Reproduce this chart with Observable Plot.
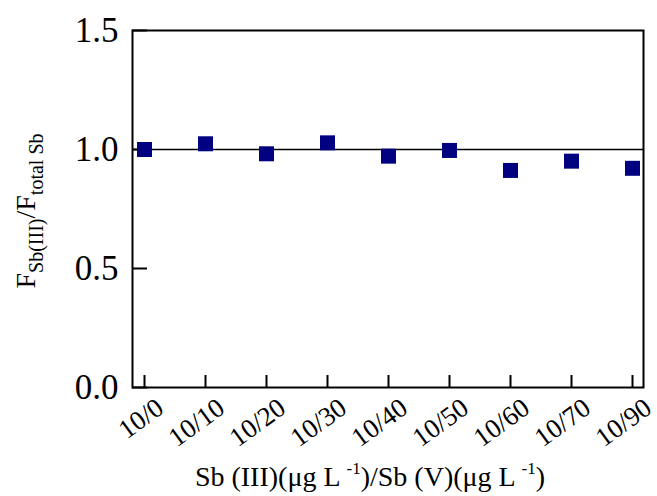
<!DOCTYPE html>
<html>
<head>
<meta charset="utf-8">
<script src="https://cdn.jsdelivr.net/npm/d3@7"></script>
<script src="https://cdn.jsdelivr.net/npm/@observablehq/plot@0.6"></script>
<style>
  html, body { margin: 0; padding: 0; background: #fff; }
  svg { display: block; }
</style>
</head>
<body>
<div id="chart"></div>
<script>
const categories = ["10/0", "10/10", "10/20", "10/30", "10/40", "10/50", "10/60", "10/70", "10/90"];
const ratioValues = [1.00, 1.024, 0.982, 1.028, 0.972, 0.996, 0.912, 0.951, 0.921];
const yTicks = [0, 0.5, 1.0, 1.5];
const referenceLine = [1.0];

const data = categories.map((c, i) => ({cat: c, v: ratioValues[i]}));
const serif = "'Liberation Serif', 'Times New Roman', serif";

const chart = Plot.plot({
  width: 657,
  height: 496,
  marginTop: 30,
  marginBottom: 109,
  marginLeft: 132,
  marginRight: 14,
  style: {fontFamily: serif, background: "#fff", color: "#000"},
  x: {type: "point", domain: categories, padding: 0, insetLeft: 11, insetRight: 11, axis: null},
  y: {domain: [0, 1.5], axis: null},
  marks: [
    Plot.ruleY(referenceLine, {stroke: "#000", strokeWidth: 1.5}),
    Plot.axisY(yTicks, {tickSize: -15, tickFormat: () => "", label: null, strokeWidth: 2}),
    Plot.axisY(yTicks, {tickSize: 0, tickPadding: 14, tickFormat: d3.format(".1f"), label: null, fontSize: 35, fontFamily: serif}),
    Plot.axisX(categories, {tickSize: -12, tickFormat: () => "", label: null, strokeWidth: 2}),
    Plot.text(categories, {x: d => d, frameAnchor: "bottom", dx: 21, dy: 24, rotate: -36, textAnchor: "end", lineAnchor: "bottom", fontSize: 27, fontFamily: serif, fill: "#000"}),
    Plot.dot(data, {x: "cat", y: "v", symbol: "square", r: 8.46, fill: "#000080", stroke: "none"}),
    Plot.frame({stroke: "#000", strokeWidth: 2})
  ]
});
document.getElementById("chart").appendChild(chart);

const svg = d3.select(chart);
// y-axis title with subscripts
const yl = svg.append("text")
  .attr("transform", "translate(35,211) rotate(-90)")
  .attr("text-anchor", "middle")
  .attr("font-family", serif)
  .attr("font-size", 28)
  .attr("fill", "#000");
yl.append("tspan").text("F");
yl.append("tspan").attr("font-size", 20).attr("dy", 8).text("Sb(III)");
yl.append("tspan").attr("dy", -8).text("/F");
yl.append("tspan").attr("font-size", 20).attr("dy", 8).text("total Sb");

// x-axis title with superscripts
const xl = svg.append("text")
  .attr("x", 370)
  .attr("y", 486)
  .attr("text-anchor", "middle")
  .attr("font-family", serif)
  .attr("font-size", 28)
  .attr("fill", "#000");
xl.append("tspan").text("Sb (III)(\u03bcg L ");
xl.append("tspan").attr("font-size", 17).attr("dy", -12).text("-1");
xl.append("tspan").attr("dy", 12).text(")/Sb (V)(\u03bcg L ");
xl.append("tspan").attr("font-size", 17).attr("dy", -12).text("-1");
xl.append("tspan").attr("dy", 12).text(")");
</script>
</body>
</html>
